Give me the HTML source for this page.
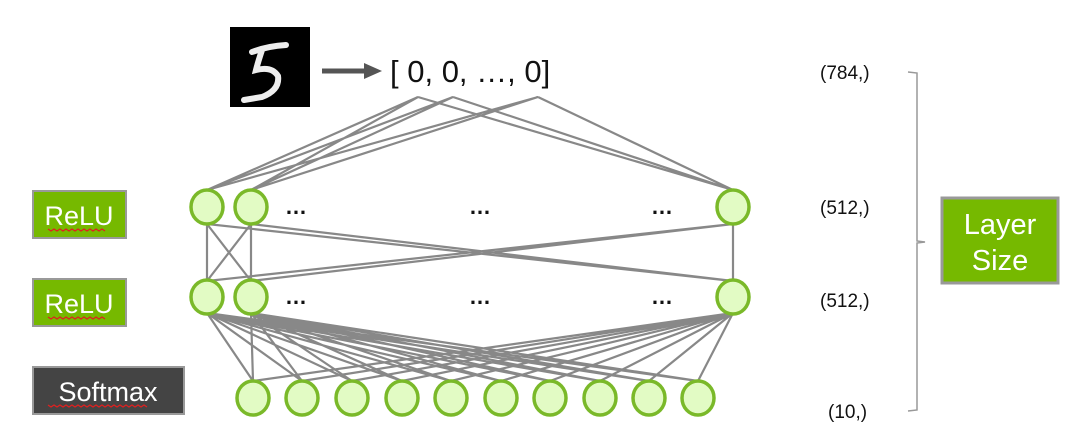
<!DOCTYPE html>
<html><head><meta charset="utf-8"><style>
body{margin:0;background:#fff;}
svg{display:block;font-family:"Liberation Sans",sans-serif;}
</style></head><body>
<svg width="1080" height="446" viewBox="0 0 1080 446" xmlns="http://www.w3.org/2000/svg">
<rect width="1080" height="446" fill="#fff"/>
<!-- image -->
<rect x="230" y="27" width="80" height="80" fill="#000"/>
<path d="M252 52 Q268 46 286 45 M262 50 Q258 62 256 70 Q272 66 278 76 Q280 90 262 97 L244 100" stroke="#eee" stroke-width="6" fill="none" stroke-linecap="round"/>
<!-- arrow -->
<line x1="322" y1="71" x2="366" y2="71" stroke="#555" stroke-width="5"/>
<polygon points="364,63 382,71 364,79" fill="#555"/>
<text x="390" y="82" font-size="31" fill="#111">[ 0, 0, …, 0]</text>
<g stroke="#888" stroke-width="2.2" fill="none">
<!-- input to layer1 -->
<path d="M418 97 L207 190 M453 97 L207 190 M538 97 L207 190 M418 97 L251 190 M453 97 L251 190 M538 97 L251 190 M418 97 L733 190 M453 97 L733 190 M538 97 L733 190"/>
<!-- layer1 to layer2 -->
<path d="M207 224 L207 281 M251 224 L251 281 M733 224 L733 281 M207 224 L251 281 M251 224 L207 281 M207 224 L733 281 M251 224 L733 281 M733 224 L207 281 M733 224 L251 281"/>
<!-- layer2 to output -->
<path d="M207 313 L253 381 M207 313 L302 381 M207 313 L352 381 M207 313 L402 381 M207 313 L451 381 M207 313 L501 381 M207 313 L550 381 M207 313 L600 381 M207 313 L649 381 M207 313 L698 381
M251 313 L253 381 M251 313 L302 381 M251 313 L352 381 M251 313 L402 381 M251 313 L451 381 M251 313 L501 381 M251 313 L550 381 M251 313 L600 381 M251 313 L649 381 M251 313 L698 381
M733 313 L253 381 M733 313 L302 381 M733 313 L352 381 M733 313 L402 381 M733 313 L451 381 M733 313 L501 381 M733 313 L550 381 M733 313 L600 381 M733 313 L649 381 M733 313 L698 381"/>
</g>
<g fill="#e2fbc4" stroke="#7ab929" stroke-width="3.5">
<ellipse cx="207" cy="207" rx="16" ry="17"/><ellipse cx="251" cy="207" rx="16" ry="17"/><ellipse cx="733" cy="207" rx="16" ry="17"/>
<ellipse cx="207" cy="297" rx="16" ry="17"/><ellipse cx="251" cy="297" rx="16" ry="17"/><ellipse cx="733" cy="297" rx="16" ry="17"/>
<ellipse cx="253" cy="398" rx="16" ry="17"/><ellipse cx="302" cy="398" rx="16" ry="17"/><ellipse cx="352" cy="398" rx="16" ry="17"/><ellipse cx="402" cy="398" rx="16" ry="17"/><ellipse cx="451" cy="398" rx="16" ry="17"/><ellipse cx="501" cy="398" rx="16" ry="17"/><ellipse cx="550" cy="398" rx="16" ry="17"/><ellipse cx="600" cy="398" rx="16" ry="17"/><ellipse cx="649" cy="398" rx="16" ry="17"/><ellipse cx="698" cy="398" rx="16" ry="17"/>
</g>
<g font-size="22" font-weight="bold" fill="#111" text-anchor="middle">
<text x="296" y="214">…</text><text x="480" y="214">…</text><text x="662" y="214">…</text>
<text x="296" y="304">…</text><text x="480" y="304">…</text><text x="662" y="304">…</text>
</g>
<!-- labels -->
<rect x="33" y="191" width="93" height="47" fill="#76b900" stroke="#999" stroke-width="2"/>
<text x="79" y="225" font-size="27" fill="#fff" text-anchor="middle">ReLU</text>
<rect x="33" y="279" width="93" height="47" fill="#76b900" stroke="#999" stroke-width="2"/>
<text x="79" y="313" font-size="27" fill="#fff" text-anchor="middle">ReLU</text>
<rect x="33" y="367" width="151" height="47" fill="#444" stroke="#999" stroke-width="2"/>
<text x="108" y="401" font-size="27" fill="#fff" text-anchor="middle">Softmax</text>
<g stroke="#e02020" stroke-width="1.2" fill="none">
<path d="M48 229 l3 2 3 -2 3 2 3 -2 3 2 3 -2 3 2 3 -2 3 2 3 -2 3 2 3 -2 3 2 3 -2 3 2 3 -2 3 2 3 -2 3 2"/>
<path d="M48 317 l3 2 3 -2 3 2 3 -2 3 2 3 -2 3 2 3 -2 3 2 3 -2 3 2 3 -2 3 2 3 -2 3 2 3 -2 3 2 3 -2 3 2"/>
<path d="M48 405 l3 2 3 -2 3 2 3 -2 3 2 3 -2 3 2 3 -2 3 2 3 -2 3 2 3 -2 3 2 3 -2 3 2 3 -2 3 2 3 -2 3 2 3 -2 3 2 3 -2 3 2 3 -2 3 2 3 -2 3 2 3 -2 3 2 3 -2 3 2 3 -2 3 2"/>
</g>
<!-- sizes -->
<g font-size="19" fill="#111">
<text x="820" y="79">(784,)</text>
<text x="820" y="214">(512,)</text>
<text x="820" y="307">(512,)</text>
<text x="828" y="418">(10,)</text>
</g>
<path d="M908 72 L917 73 L917 241 L925 242 L917 243 L917 410 L908 411" stroke="#999" stroke-width="1.5" fill="none"/>
<rect x="942" y="198" width="116" height="85" fill="#76b900" stroke="#999" stroke-width="3"/>
<text x="1000" y="234" font-size="29" fill="#fff" text-anchor="middle">Layer</text>
<text x="1000" y="270" font-size="29" fill="#fff" text-anchor="middle">Size</text>
</svg>
</body></html>
